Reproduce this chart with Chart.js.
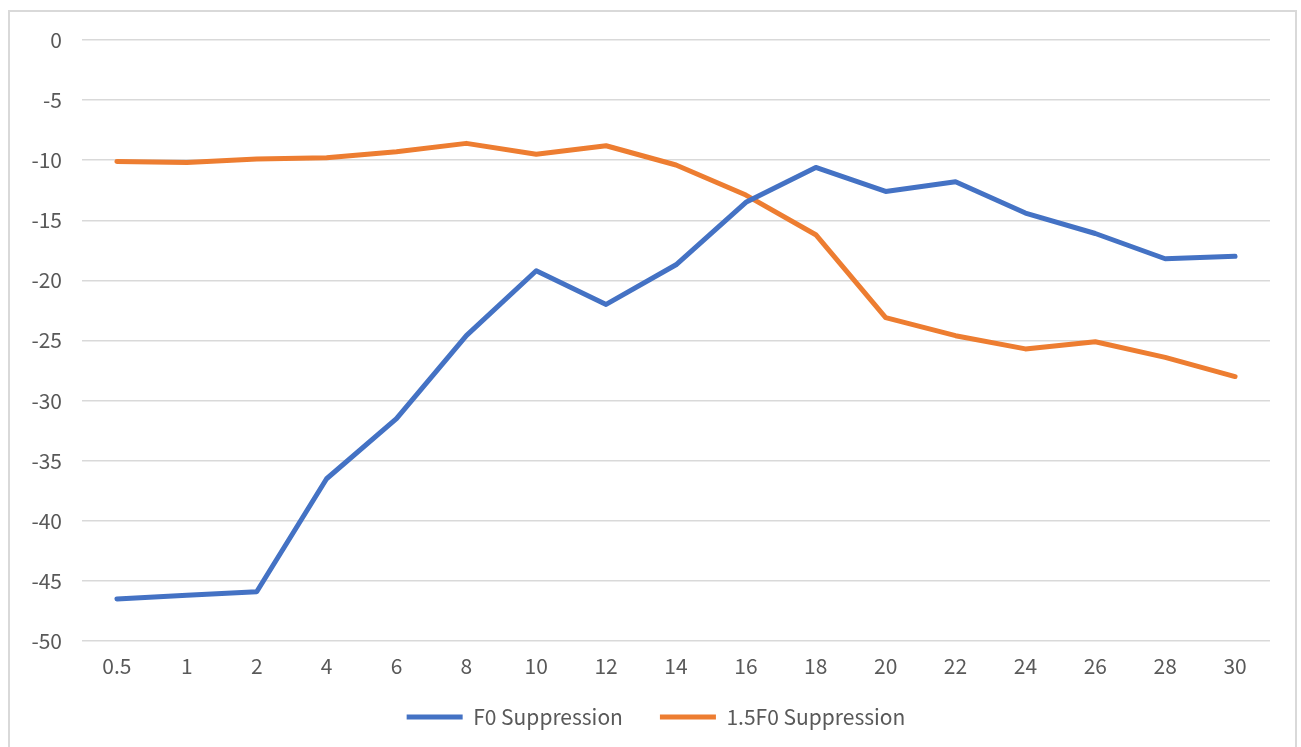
<!DOCTYPE html>
<html>
<head>
<meta charset="utf-8">
<script src="https://cdn.jsdelivr.net/npm/chart.js@4/dist/chart.umd.min.js"></script>
<style>
  html, body { margin: 0; padding: 0; background: #fff; overflow: hidden; }
  #frame {
    position: absolute; left: 8px; top: 10px; width: 1289px; height: 760px;
    border: 2px solid #d9d9d9; box-sizing: border-box;
  }
  #wrap { position: absolute; left: 0; top: 0; width: 1301px; height: 747px; }
</style>
</head>
<body>
<div id="frame"></div>
<div id="wrap"><canvas id="chart" width="1301" height="747"></canvas></div>
<script>
const frequencies = ["0.5", "1", "2", "4", "6", "8", "10", "12", "14", "16", "18", "20", "22", "24", "26", "28", "30"];
const f0Suppression = [-46.5, -46.2, -45.9, -36.5, -31.5, -24.6, -19.2, -22.0, -18.7, -13.5, -10.6, -12.6, -11.8, -14.4, -16.1, -18.2, -18.0];
const f15Suppression = [-10.1, -10.2, -9.9, -9.8, -9.3, -8.6, -9.5, -8.8, -10.4, -12.9, -16.2, -23.1, -24.6, -25.7, -25.1, -26.4, -28.0];
const seriesNames = ["F0 Suppression", "1.5F0 Suppression"];
const yMin = -50;
const yMax = 0;
const yStep = 5;

document.addEventListener("DOMContentLoaded", () => {
  const textColor = "#595959";
  const gridColor = "#d9d9d9";
  const fontFamily = "'Noto Sans CJK SC', 'Noto Sans', sans-serif";

  Chart.defaults.font.family = fontFamily;
  Chart.defaults.color = textColor;

  const lineStyle = {
    borderWidth: 5,
    pointRadius: 0,
    pointHoverRadius: 0,
    tension: 0,
    fill: false,
    borderJoinStyle: "round",
    borderCapStyle: "round",
  };

  // axis boxes are kept tight for layout; widen them afterwards so tick labels aren't clipped
  const unclipLabels = {
    id: "unclipLabels",
    afterLayout(chart) {
      chart.scales.x.bottom += 30;
      chart.scales.y.left -= 42;
    },
  };

  new Chart(document.getElementById("chart"), {
    type: "line",
    data: {
      labels: frequencies,
      datasets: [
        { label: seriesNames[0], data: f0Suppression, borderColor: "#4472c4", backgroundColor: "#4472c4", ...lineStyle },
        { label: seriesNames[1], data: f15Suppression, borderColor: "#ed7d31", backgroundColor: "#ed7d31", ...lineStyle },
      ],
    },
    options: {
      responsive: false,
      animation: false,
      layout: { padding: { top: 40, right: 31, left: 42, bottom: 9.5 } },
      scales: {
        x: {
          offset: true,
          grid: { display: false, drawTicks: false },
          border: { display: false },
          ticks: { padding: 12, font: { size: 21 }, color: textColor, maxRotation: 0, autoSkip: false },
          afterFit: (scale) => { scale.height = 28.5; },
        },
        y: {
          min: yMin,
          max: yMax,
          grid: { color: gridColor, lineWidth: 1.5, drawTicks: false },
          border: { display: false },
          ticks: { stepSize: yStep, padding: 20, font: { size: 21 }, color: textColor },
          afterFit: (scale) => { scale.width = 40; },
        },
      },
      plugins: {
        legend: {
          position: "bottom",
          labels: {
            usePointStyle: true,
            pointStyle: "line",
            pointStyleWidth: 56,
            padding: 37,
            font: { size: 21 },
            color: textColor,
          },
        },
        tooltip: { enabled: false },
      },
    },
    plugins: [unclipLabels],
  });
});
</script>
</body>
</html>
